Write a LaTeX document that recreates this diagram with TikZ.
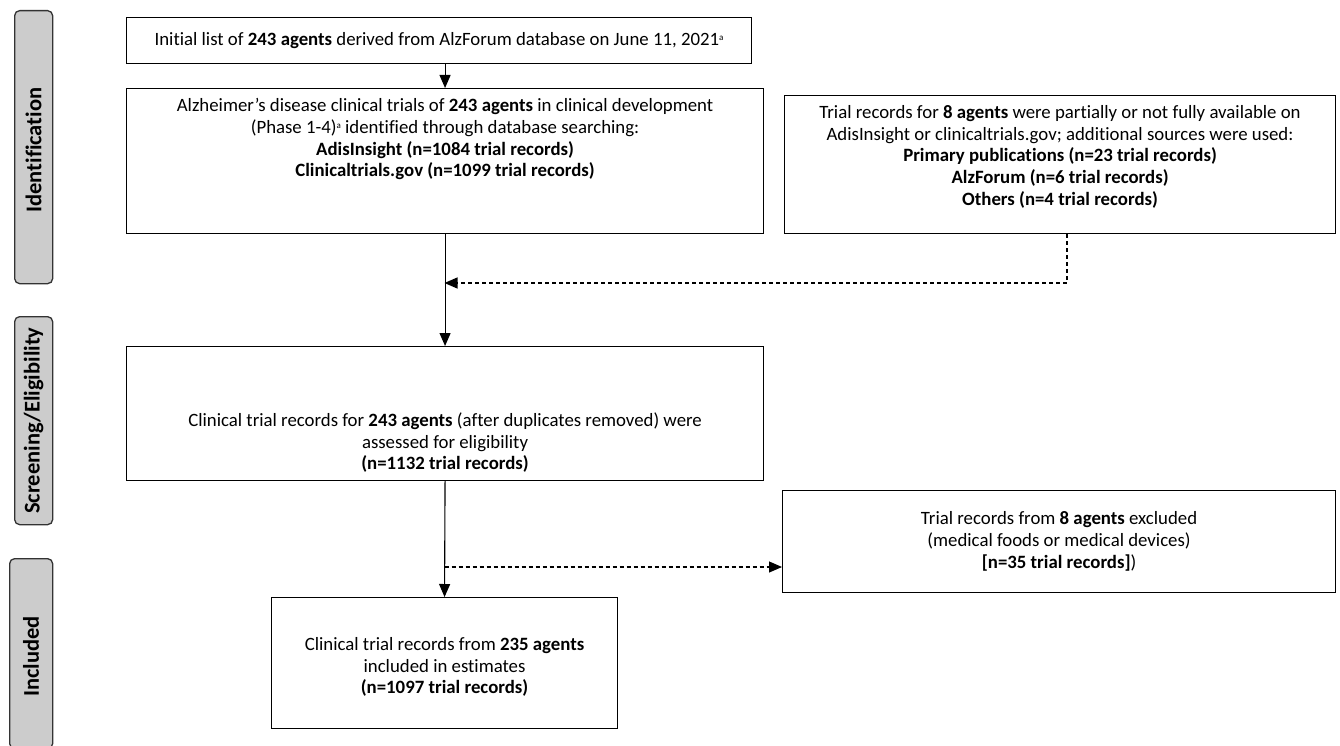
\documentclass[tikz,border=0pt]{standalone}
\usepackage{fontspec}
\setmainfont{Carlito}[Ligatures=NoCommon]
\usetikzlibrary{arrows.meta}
\tikzset{
  box/.style={draw=black, line width=1.1pt, inner sep=0pt, anchor=north west},
  txt/.style={align=center, inner sep=0pt, font=\fontsize{18.8}{21.8}\selectfont},
  side/.style={draw=black!80, fill=black!20, line width=1.3pt, rounded corners=5pt, inner sep=0pt, anchor=north west},
  sidetxt/.style={rotate=90, font=\fontsize{22.5}{24}\selectfont\bfseries, inner sep=0pt},
  arr/.style={line width=1.1pt, -{Triangle[length=13pt,width=11pt]}},
  darr/.style={line width=1.1pt, dash pattern=on 4pt off 3pt, -{Triangle[length=13pt,width=11pt]}}
}
\newcommand{\supa}{\raisebox{0.55ex}{\fontsize{9}{9}\selectfont a}}
\begin{document}
\begin{tikzpicture}[x=1pt,y=-1pt]
\useasboundingbox (0,0) rectangle (1340,746);
% side boxes
\node[side, minimum width=38pt, minimum height=273pt] (s1) at (14,10) {};
\node[sidetxt] (s1t) at ([yshift=-3pt]s1.center) {Identification};
\node[side, minimum width=38pt, minimum height=208pt] (s2) at (14,316) {};
\node[sidetxt] (s2t) at (s2.center) {Screening/Eligibility};
\node[side, minimum width=43pt, minimum height=190pt] (s3) at (9,558) {};
\node[sidetxt] (s3t) at ([yshift=-3pt]s3.center) {Included};
% main boxes
\node[box, minimum width=625pt, minimum height=46pt] (b1) at (126,17) {};
\node[txt] (b1t) at (b1.center) {Initial list of \textbf{243 agents} derived from AlzForum database on June 11, 2021\supa};
\node[box, minimum width=637pt, minimum height=145pt] (b2) at (126,88) {};
\node[txt, anchor=north] (b2t) at ([yshift=-10pt]b2.north) {Alzheimer’s disease clinical trials of \textbf{243 agents} in clinical development\\(Phase 1-4)\supa{} identified through database searching:\\\textbf{AdisInsight (n=1084 trial records)}\\\textbf{Clinicaltrials.gov (n=1099 trial records)}};
\node[box, minimum width=551pt, minimum height=138pt] (r1) at (784,95) {};
\node[txt, anchor=north] (r1t) at ([yshift=-10pt]r1.north) {Trial records for \textbf{8 agents} were partially or not fully available on\\AdisInsight or clinicaltrials.gov; additional sources were used:\\\textbf{Primary publications (n=23 trial records)}\\\textbf{AlzForum (n=6 trial records)}\\\textbf{Others (n=4 trial records)}};
\node[box, minimum width=637pt, minimum height=134pt] (b3) at (126,346) {};
\node[txt] (b3t) at ([yshift=-29pt]b3.center) {Clinical trial records for \textbf{243 agents} (after duplicates removed) were\\assessed for eligibility\\\textbf{(n=1132 trial records)}};
\node[box, minimum width=553pt, minimum height=102pt] (r2) at (782,490) {};
\node[txt] (r2t) at (r2.center) {Trial records from \textbf{8 agents} excluded\\(medical foods or medical devices)\\\textbf{[n=35 trial records]})};
\node[box, minimum width=346pt, minimum height=131pt] (b4) at (271,597) {};
\node[txt] (b4t) at ([yshift=-4pt]b4.center) {Clinical trial records from \textbf{235 agents}\\included in estimates\\\textbf{(n=1097 trial records)}};
% connectors
\draw[arr] (b1.south -| b2.north) -- (b2.north);
\draw[arr] (b2.south) -- (b3.north);
\coordinate (j1) at (444.5,283);
\coordinate (d1) at (1067,283);
\draw[darr] (r1.south -| d1) -- (d1) -- (j1);
\draw[arr] (b3.south) -- (b4.north);
\coordinate (j2) at (444.5,567);
\draw[darr] (j2) -- (j2 -| r2.west);
\end{tikzpicture}
\end{document}
